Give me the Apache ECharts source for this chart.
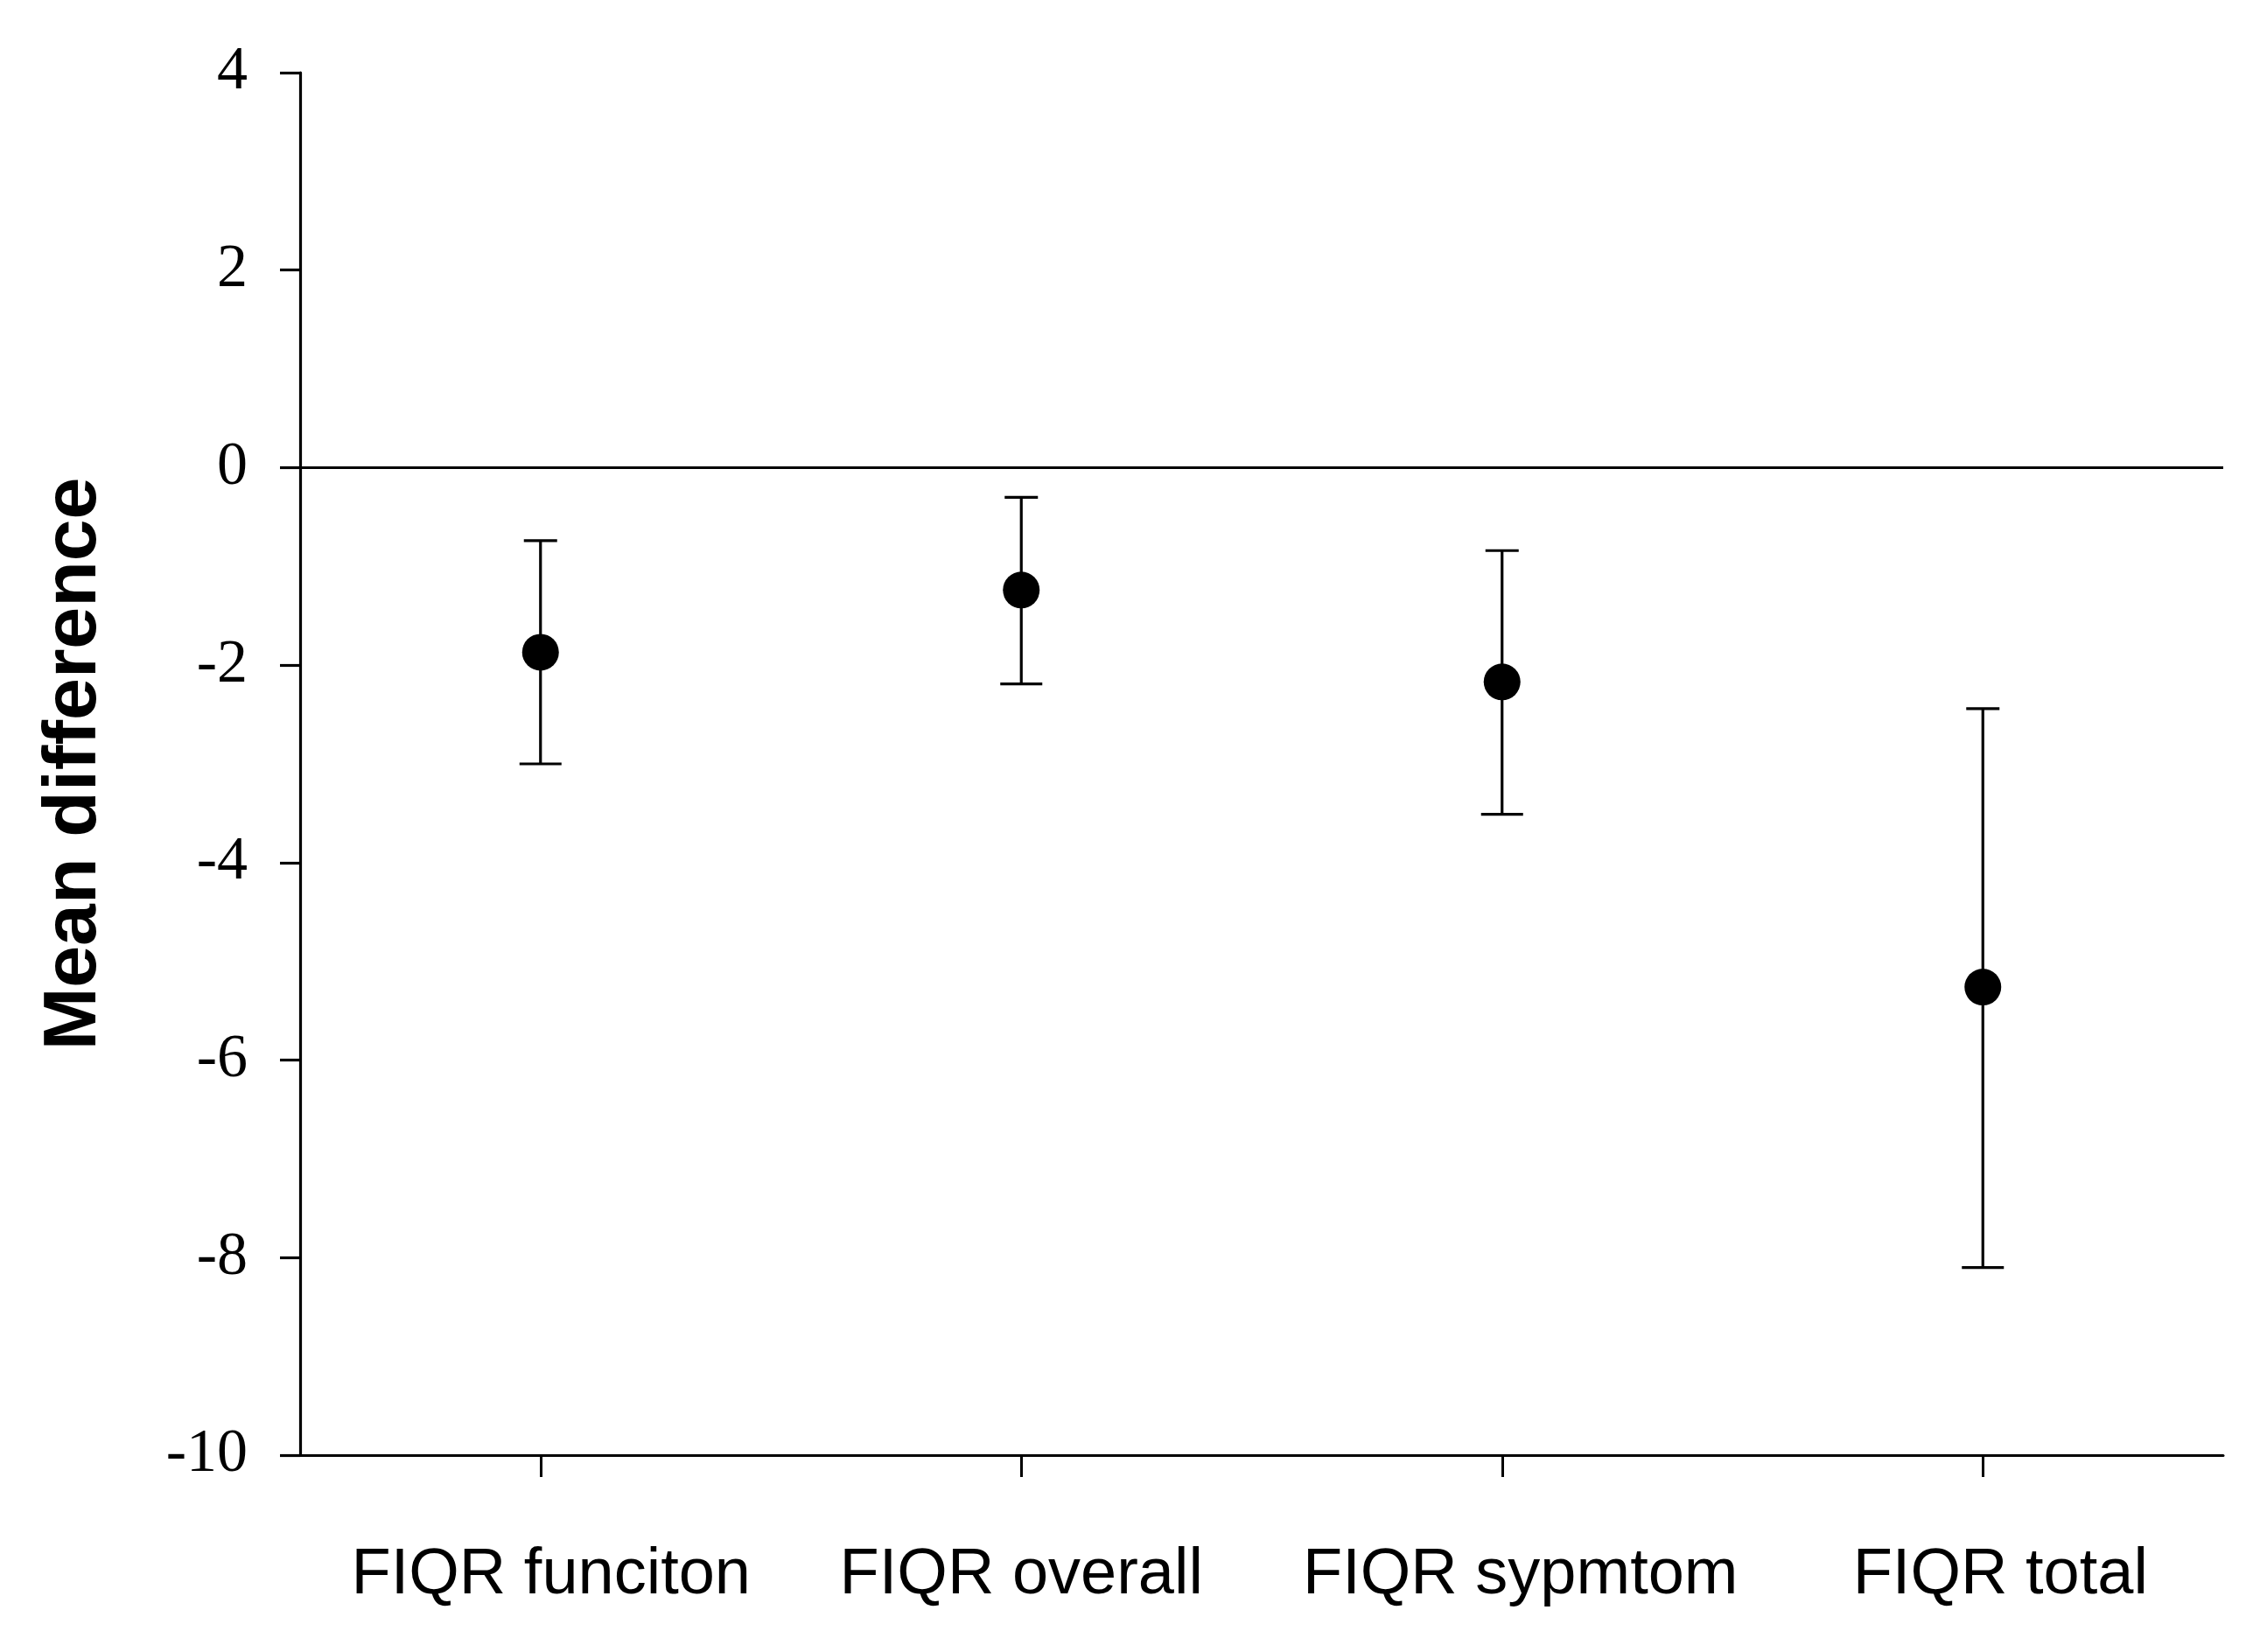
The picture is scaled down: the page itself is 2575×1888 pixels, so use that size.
<!DOCTYPE html>
<html>
<head>
<meta charset="utf-8">
<style>
  html, body { margin: 0; padding: 0; background: #ffffff; }
  #chart { width: 2575px; height: 1888px; }
</style>
<script src="https://cdn.jsdelivr.net/npm/echarts@6/dist/echarts.min.js"></script>
</head>
<body>
<div id="chart"></div>
<script>
// ---- Data ----
const categories = ['FIQR funciton', 'FIQR overall', 'FIQR sypmtom', 'FIQR total'];
const meanDiff   = [-1.87, -1.24, -2.17, -5.26];
const upperCI    = [-0.74, -0.30, -0.84, -2.44];
const lowerCI    = [-3.00, -2.19, -3.51, -8.10];
const yTicks     = [-10, -8, -6, -4, -2, 0, 2, 4];
const refLineValue = 0;

// label nudges (styling only, px to the right)
const labelNudge = [12, 0, 21, 20];

// ---- Chart ----
const chart = echarts.init(document.getElementById('chart'), null, { renderer: 'canvas' });

const errorData = categories.map((c, i) => [i, lowerCI[i], upperCI[i]]);
const pointData = categories.map((c, i) => [i, meanDiff[i]]);
const catData = categories.map((c, i) => ({
  value: c,
  textStyle: { padding: [0, 0, 0, labelNudge[i] * 2] }
}));

const option = {
  backgroundColor: '#ffffff',
  animation: false,
  grid: { left: 343, right: 34, top: 83, bottom: 225, containLabel: false },
  xAxis: {
    type: 'category',
    data: catData,
    boundaryGap: true,
    axisLine: { show: true, onZero: false, lineStyle: { color: '#000', width: 3 } },
    axisTick: { show: true, alignWithLabel: true, interval: 0, length: 25, lineStyle: { color: '#000', width: 3 } },
    axisLabel: { color: '#000', fontFamily: 'Liberation Sans', fontSize: 74, margin: 101, interval: 0 },
    splitLine: { show: false }
  },
  yAxis: {
    type: 'value',
    min: yTicks[0],
    max: yTicks[yTicks.length - 1],
    interval: 2,
    name: 'Mean difference',
    nameLocation: 'middle',
    nameGap: 215,
    nameTextStyle: { color: '#000', fontFamily: 'Liberation Sans', fontWeight: 'bold', fontSize: 86 },
    axisLine: { show: true, lineStyle: { color: '#000', width: 3.2 } },
    axisTick: { show: true, length: 23, lineStyle: { color: '#000', width: 3.2 } },
    axisLabel: { color: '#000', fontFamily: 'Liberation Serif', fontSize: 70, margin: 60 },
    splitLine: { show: false }
  },
  series: [
    {
      type: 'custom',
      name: 'CI',
      z: 2,
      data: errorData,
      renderItem: function (params, api) {
        const x = api.value(0);
        const lo = api.coord([x, api.value(1)]);
        const hi = api.coord([x, api.value(2)]);
        const style = { stroke: '#000', lineWidth: 3.2 };
        return {
          type: 'group',
          children: [
            { type: 'line', shape: { x1: lo[0], y1: lo[1], x2: hi[0], y2: hi[1] }, style: style },
            { type: 'line', shape: { x1: hi[0] - 19, y1: hi[1], x2: hi[0] + 19, y2: hi[1] }, style: style },
            { type: 'line', shape: { x1: lo[0] - 24, y1: lo[1], x2: lo[0] + 24, y2: lo[1] }, style: style }
          ]
        };
      },
      markLine: {
        silent: true,
        symbol: ['none', 'none'],
        label: { show: false },
        lineStyle: { color: '#000', width: 3.2, type: 'solid', opacity: 1 },
        data: [{ yAxis: refLineValue }]
      }
    },
    {
      type: 'scatter',
      name: 'Mean',
      z: 3,
      data: pointData,
      symbol: 'circle',
      symbolSize: 42,
      itemStyle: { color: '#000', opacity: 1 }
    }
  ]
};

chart.setOption(option);
</script>
</body>
</html>
